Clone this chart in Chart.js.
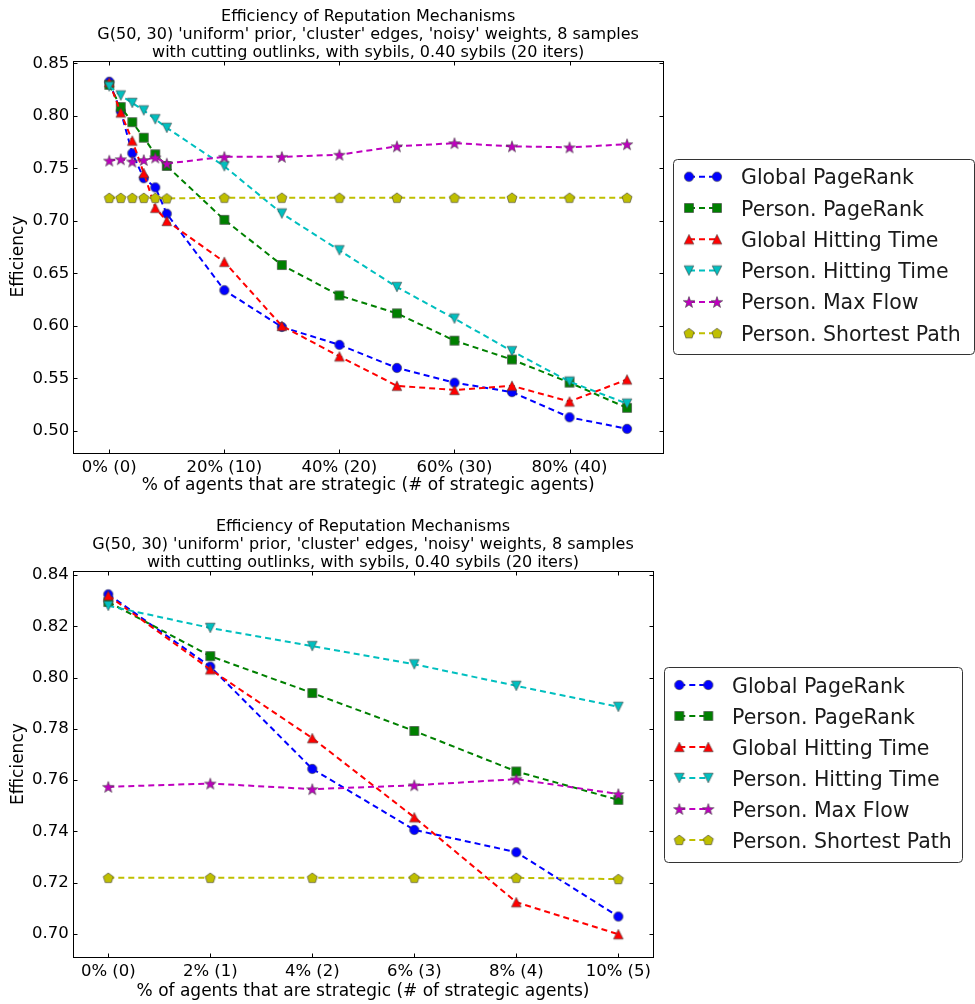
<!DOCTYPE html>
<html><head><meta charset="utf-8">
<script src="https://cdn.jsdelivr.net/npm/chart.js@4.4.1/dist/chart.umd.min.js"></script>
<style>
html,body{margin:0;padding:0;background:#fff;}
canvas{position:absolute;left:0;}
#c1{top:0;}
#c2{top:500px;}
</style></head><body>
<canvas id="c1" width="975" height="500"></canvas>
<canvas id="c2" width="975" height="504"></canvas>
<script>
// ---------- data ----------
const seriesLabels = ['Global PageRank','Person. PageRank','Global Hitting Time','Person. Hitting Time','Person. Max Flow','Person. Shortest Path'];
const topAgents = [0,1,2,3,4,5,10,15,20,25,30,35,40,45];
const bottomAgents = [0,1,2,3,4,5];
const globalPageRank    = [0.8325,0.8043,0.7644,0.7406,0.7319,0.7068,0.634,0.599,0.582,0.560,0.546,0.537,0.513,0.502];
const personPageRank    = [0.8295,0.8084,0.7940,0.7792,0.7634,0.7523,0.701,0.658,0.629,0.612,0.586,0.568,0.546,0.522];
const globalHitting     = [0.8320,0.8032,0.7764,0.7455,0.7124,0.6999,0.661,0.600,0.571,0.543,0.539,0.543,0.528,0.549];
const personHitting     = [0.8280,0.8194,0.8123,0.8052,0.7968,0.7886,0.752,0.707,0.672,0.637,0.607,0.576,0.547,0.526];
const personMaxFlow     = [0.7574,0.7587,0.7565,0.7580,0.7604,0.7546,0.761,0.761,0.763,0.771,0.774,0.771,0.770,0.773];
const personShortest    = [0.7219,0.7219,0.7219,0.7219,0.7219,0.7214,0.722,0.722,0.722,0.722,0.722,0.722,0.722,0.722];
const topXTicks = [0,10,20,30,40];
const topXTickLabels = ['0% (0)','20% (10)','40% (20)','60% (30)','80% (40)'];
const bottomXTicks = [0,1,2,3,4,5];
const bottomXTickLabels = ['0% (0)','2% (1)','4% (2)','6% (3)','8% (4)','10% (5)'];
const topYTicks = [0.50,0.55,0.60,0.65,0.70,0.75,0.80,0.85];
const bottomYTicks = [0.70,0.72,0.74,0.76,0.78,0.80,0.82,0.84];
const titleLines = ['Efficiency of Reputation Mechanisms',
  "G(50, 30) 'uniform' prior, 'cluster' edges, 'noisy' weights, 8 samples",
  'with cutting outlinks, with sybils, 0.40 sybils (20 iters)'];
const xTitle = '% of agents that are strategic (# of strategic agents)';
const yTitle = 'Efficiency';

// ---------- styles ----------
const allSeries = [globalPageRank, personPageRank, globalHitting, personHitting, personMaxFlow, personShortest];
const colors = ['#0000ff','#008000','#ff0000','#00bfbf','#bf00bf','#bfbf00'];
const shapes = ['circle','square','triUp','triDown','star','pentagon'];
const FONT = '"DejaVu Sans", sans-serif';

function makeMarker(shape, color) {
  const S = 18, c = document.createElement('canvas');
  c.width = S; c.height = S;
  const g = c.getContext('2d'); const m = S / 2;
  g.beginPath();
  if (shape === 'circle') g.arc(m, m, 4.7, 0, Math.PI * 2);
  else if (shape === 'square') g.rect(m - 4.5, m - 4.5, 9, 9);
  else if (shape === 'triUp') { g.moveTo(m, m - 4.8); g.lineTo(m + 4.8, m + 4.8); g.lineTo(m - 4.8, m + 4.8); g.closePath(); }
  else if (shape === 'triDown') { g.moveTo(m, m + 4.8); g.lineTo(m + 4.8, m - 4.8); g.lineTo(m - 4.8, m - 4.8); g.closePath(); }
  else if (shape === 'star') {
    for (let k = 0; k < 10; k++) {
      const r = k % 2 === 0 ? 6.0 : 2.4;
      const ang = -Math.PI / 2 + k * Math.PI / 5;
      const px = m + r * Math.cos(ang), py = m + 0.6 + r * Math.sin(ang);
      if (k === 0) g.moveTo(px, py); else g.lineTo(px, py);
    }
    g.closePath();
  } else if (shape === 'pentagon') {
    for (let k = 0; k < 5; k++) {
      const ang = -Math.PI / 2 + k * 2 * Math.PI / 5;
      const px = m + 5.3 * Math.cos(ang), py = m + 0.4 + 5.3 * Math.sin(ang);
      if (k === 0) g.moveTo(px, py); else g.lineTo(px, py);
    }
    g.closePath();
  }
  g.fillStyle = color; g.fill();
  g.strokeStyle = 'rgba(60,60,60,0.75)'; g.lineWidth = 0.8; g.stroke();
  return c;
}
const markers = shapes.map((s, i) => makeMarker(s, colors[i]));

const decor = {
  id: 'decor',
  afterDraw(chart, args, o) {
    const { ctx, chartArea: a, scales } = chart;
    ctx.save();
    ctx.strokeStyle = '#000'; ctx.lineWidth = 1; ctx.setLineDash([]);
    const L = Math.round(a.left) + 0.5, R = Math.round(a.right) + 0.5, T = Math.round(a.top) + 0.5, B = Math.round(a.bottom) + 0.5;
    ctx.strokeRect(L, T, R - L, B - T);
    const tl = 4;
    ctx.beginPath();
    o.xTicks.forEach(v => {
      const px = Math.round(scales.x.getPixelForValue(v)) + 0.5;
      ctx.moveTo(px, B); ctx.lineTo(px, B - tl);
      ctx.moveTo(px, T); ctx.lineTo(px, T + tl);
    });
    o.yTicks.forEach(v => {
      const py = Math.round(scales.y.getPixelForValue(v)) + 0.5;
      ctx.moveTo(L, py); ctx.lineTo(L + tl, py);
      ctx.moveTo(R, py); ctx.lineTo(R - tl, py);
    });
    ctx.stroke();
    // titles
    const cx = (a.left + a.right) / 2;
    ctx.fillStyle = '#000'; ctx.textAlign = 'center'; ctx.textBaseline = 'alphabetic';
    ctx.font = '16px ' + FONT;
    titleLines.forEach((t, i) => ctx.fillText(t, cx, o.titleBase + i * 18.3));
    ctx.font = '17px ' + FONT;
    ctx.fillText(xTitle, cx, a.bottom + o.xTitleOffset);
    ctx.save();
    ctx.translate(o.yTitleX, (a.top + a.bottom) / 2);
    ctx.rotate(-Math.PI / 2);
    ctx.textBaseline = 'middle';
    ctx.fillText(yTitle, 0, 0);
    ctx.restore();
    // legend
    const lg = o.legend;
    ctx.beginPath();
    ctx.roundRect(lg.x + 0.5, lg.y + 0.5, lg.w, lg.h, 4);
    ctx.fillStyle = '#fff'; ctx.fill();
    ctx.strokeStyle = '#333'; ctx.lineWidth = 1; ctx.stroke();
    ctx.font = '20.5px ' + FONT; ctx.textAlign = 'left'; ctx.textBaseline = 'alphabetic';
    chart.data.datasets.forEach((ds, i) => {
      const y = lg.row0 + i * lg.step;
      ctx.beginPath();
      ctx.setLineDash([6, 4]);
      ctx.strokeStyle = colors[i]; ctx.lineWidth = 2;
      ctx.moveTo(lg.m1, y); ctx.lineTo(lg.m2, y); ctx.stroke();
      ctx.setLineDash([]);
      ctx.drawImage(markers[i], lg.m1 - 9, y - 9);
      ctx.drawImage(markers[i], lg.m2 - 9, y - 9);
      ctx.fillStyle = '#1a1a1a';
      ctx.fillText(ds.label, lg.tx, y + 7.5);
    });
    ctx.restore();
  }
};

function buildChart(id, H, agents, n, xMin, xMax, yMin, yMax, xTicks, xLabels, yTicks, plot, deco) {
  const datasets = allSeries.map((vals, i) => ({
    label: seriesLabels[i],
    data: agents.map((x, k) => ({ x: x, y: vals.slice(0, n)[k] })),
    borderColor: colors[i],
    backgroundColor: colors[i],
    borderWidth: 2,
    borderDash: [6, 4],
    pointStyle: markers[i],
    pointRadius: 5,
    tension: 0,
    order: 5 - i
  }));
  return new Chart(document.getElementById(id), {
    type: 'line',
    data: { datasets },
    options: {
      responsive: false, animation: false, devicePixelRatio: 1,
      layout: { padding: { left: 0, top: plot.top, right: 975 - plot.right, bottom: 0 } },
      plugins: { legend: { display: false }, tooltip: { enabled: false }, decor: deco },
      scales: {
        x: {
          type: 'linear', min: xMin, max: xMax,
          grid: { display: false, drawTicks: false }, border: { display: false },
          afterFit: s => { s.height = H - plot.bottom; },
          afterBuildTicks: s => { s.ticks = xTicks.map(v => ({ value: v })); },
          ticks: { autoSkip: false, maxRotation: 0, padding: 5, color: '#000',
            font: { family: FONT, size: 16.5 },
            callback: (v, idx) => xLabels[idx] }
        },
        y: {
          type: 'linear', min: yMin, max: yMax,
          grid: { display: false, drawTicks: false }, border: { display: false },
          afterFit: s => { s.width = plot.left; },
          afterBuildTicks: s => { s.ticks = yTicks.map(v => ({ value: v })); },
          ticks: { autoSkip: false, padding: 4, color: '#000',
            font: { family: FONT, size: 16.5 },
            callback: v => Number(v).toFixed(2) }
        }
      }
    },
    plugins: [decor]
  });
}

buildChart('c1', 500, topAgents, 14, -3.125, 48.125, 0.4793, 0.8527,
  topXTicks, topXTickLabels, topYTicks,
  { left: 73.3, right: 663, top: 60.5, bottom: 452.7 },
  { xTicks: topXTicks, yTicks: topYTicks, titleBase: 20.7, xTitleOffset: 37.5, yTitleX: 18.5,
    legend: { x: 673, y: 159, w: 301, h: 195, row0: 176.7, step: 31.3, m1: 689, m2: 717, tx: 741 } });

buildChart('c2', 504, bottomAgents, 6, -0.349, 5.343, 0.6909, 0.8416,
  bottomXTicks, bottomXTickLabels, bottomYTicks,
  { left: 72.7, right: 653.3, top: 71, bottom: 457.3 },
  { xTicks: bottomXTicks, yTicks: bottomYTicks, titleBase: 30.7, xTitleOffset: 38.7, yTitleX: 18.5,
    legend: { x: 664, y: 167, w: 298, h: 195, row0: 185, step: 31, m1: 679.3, m2: 708.3, tx: 732 } });
</script>
</body></html>
